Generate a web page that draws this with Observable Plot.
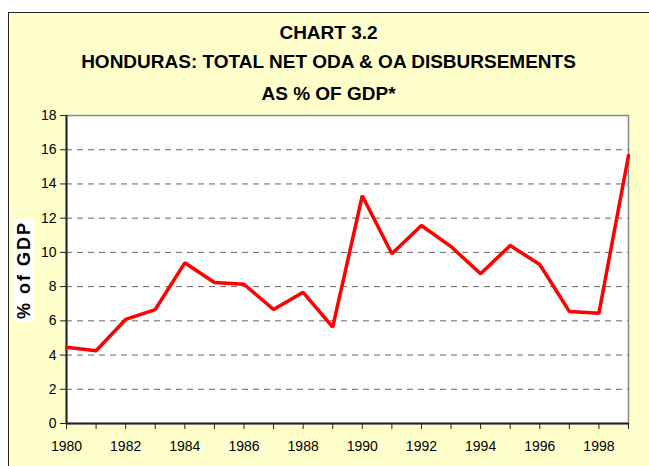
<!DOCTYPE html>
<html>
<head>
<meta charset="utf-8">
<script src="https://cdn.jsdelivr.net/npm/d3@7"></script>
<script src="https://cdn.jsdelivr.net/npm/@observablehq/plot@0.6"></script>
<style>
  html, body { margin: 0; padding: 0; background: #ffffff; }
  body { width: 649px; height: 466px; position: relative; overflow: hidden; }
  #frame { position: absolute; left: 8px; top: 12px; width: 660px; height: 470px;
           background: #ffffcc; border: 1px solid #222; box-sizing: border-box; }
  .title { position: absolute; left: 8px; width: 641px; text-align: center;
           font-family: "Liberation Sans Narrow", "Arial Narrow", "Liberation Sans", sans-serif;
           font-weight: bold; font-size: 19px; color: #000; line-height: 1; }
  #ylab { position: absolute; left: 24px; top: 270px; transform: translate(-50%, -50%) rotate(-90deg);
          background: #fff; font-family: "Liberation Sans", Arial, sans-serif; font-weight: bold;
          font-size: 18px; letter-spacing: 2px; white-space: nowrap; padding: 0 2px; line-height: 20px; }
  #chart { position: absolute; left: 0; top: 100px; }
</style>
</head>
<body>
<div id="frame"></div>
<div class="title" id="t1" style="top:23px">CHART 3.2</div>
<div class="title" id="t2" style="top:52px">HONDURAS: TOTAL NET ODA &amp; OA DISBURSEMENTS</div>
<div class="title" id="t3" style="top:84px">AS % OF GDP*</div>
<div id="chart"></div>
<div id="ylab">% of GDP</div>
<script>
const years = [1980,1981,1982,1983,1984,1985,1986,1987,1988,1989,1990,1991,1992,1993,1994,1995,1996,1997,1998,1999];
const oda   = [4.45,4.25,6.08,6.66,9.39,8.24,8.14,6.66,7.67,5.63,13.31,9.92,11.57,10.34,8.75,10.40,9.29,6.55,6.45,15.66];
const yTicks = [0,2,4,6,8,10,12,14,16,18];
const gridTicks = [2,4,6,8,10,12,14,16];
const xLabelTicks = [1980,1982,1984,1986,1988,1990,1992,1994,1996,1998];

const data = years.map((y, i) => ({year: y, value: oda[i]}));

const chart = Plot.plot({
  width: 649,
  height: 366,
  marginLeft: 66,
  marginRight: 21,
  marginTop: 15,
  marginBottom: 43,
  style: {background: "transparent", fontFamily: "'Liberation Sans', Arial, sans-serif", color: "#000"},
  x: {type: "linear", domain: [1980, 1999]},
  y: {domain: [0, 18]},
  marks: [
    Plot.frame({fill: "white", stroke: "#888", strokeWidth: 1.5}),
    Plot.ruleY(gridTicks, {stroke: "#666", strokeWidth: 1, strokeDasharray: "6,5"}),
    Plot.axisY({ticks: yTicks, tickSize: 6, tickPadding: 4, tickFormat: d => String(d), label: null, stroke: "#222", fontSize: 14, style: {letterSpacing: "-0.8px"}}),
    Plot.axisX({ticks: years, tickSize: 6, tickFormat: () => "", label: null, stroke: "#222"}),
    Plot.axisX({ticks: xLabelTicks, tickSize: 0, tickPadding: 18, tickFormat: d => String(d), label: null, fontSize: 14, style: {letterSpacing: "-0.8px"}}),
    Plot.ruleX([1980], {stroke: "#222", strokeWidth: 2}),
    Plot.ruleY([0], {stroke: "#222", strokeWidth: 2}),
    Plot.line(data, {x: "year", y: "value", stroke: "#ff0000", strokeWidth: 3.5, strokeLinejoin: "miter"})
  ]
});
document.getElementById("chart").appendChild(chart);
</script>
</body>
</html>
